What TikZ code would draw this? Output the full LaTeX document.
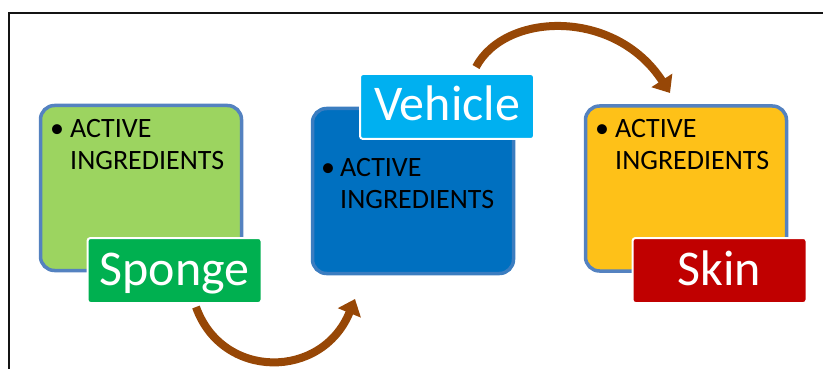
\documentclass[tikz,border=0pt]{standalone}
\usepackage{fontspec}
\setmainfont{Carlito}
\usetikzlibrary{arrows.meta}

\definecolor{frameblack}{RGB}{20,20,20}
\definecolor{boxedge}{RGB}{84,130,192}
\definecolor{spongefill}{RGB}{156,212,96}
\definecolor{vehiclefill}{RGB}{0,112,192}
\definecolor{skinfill}{RGB}{254,193,24}
\definecolor{spongetag}{RGB}{0,176,80}
\definecolor{vehicletag}{RGB}{0,176,240}
\definecolor{skintag}{RGB}{192,0,0}
\definecolor{flowbrown}{RGB}{151,71,6}

\tikzset{
  stage/.style={draw=boxedge, line width=3.5pt, rounded corners=14pt,
    minimum width=201pt, minimum height=165pt, inner sep=0pt},
  tag/.style={draw=white, line width=2pt, rounded corners=3pt, text=white,
    minimum width=174pt, minimum height=65pt, inner sep=0pt,
    font=\fontsize{50}{58}\selectfont, text height=29pt, text depth=0pt},
  bullets/.style={anchor=north west, inner sep=0pt, align=left,
    font=\fontsize{28}{32}\selectfont, text=black},
  flow/.style={draw=flowbrown, line width=8pt,
    -{Triangle[length=15pt,width=24pt]}}
}

\newcommand{\activeitem}[1]{\makebox[#1][l]{\textbullet}ACTIVE\\\hspace*{#1}INGREDIENTS}

\begin{document}
\begin{tikzpicture}[x=1pt,y=-1pt]
\useasboundingbox (0,0) rectangle (823,369);

% open frame: left and top edges
\coordinate (frameBL) at (9,369);
\coordinate (frameTR) at (823,13);
\draw[frameblack, line width=2pt] (frameBL) |- (frameTR);

% stages
\node[stage, fill=spongefill]  (sponge)  at (141,188)   {};
\node[stage, fill=vehiclefill, draw=boxedge!70!vehiclefill] (vehicle) at (413,191) {};
\node[stage, fill=skinfill]    (skin)    at (686,188.5) {};

\node[bullets] (spongeText)  at (50,119)  {\activeitem{20pt}};
\node[bullets] (vehicleText) at (321,158) {\activeitem{19pt}};
\node[bullets] (skinText)    at (595,119) {\activeitem{20pt}};

% stage tags
\node[tag, fill=spongetag]  (spongeTag)  at (174.5,270.5) {Sponge};
\node[tag, fill=vehicletag] (vehicleTag) at (447,106.5)   {Vehicle};
\node[tag, fill=skintag]    (skinTag)    at (719.5,270.5) {Skin};

% flow arrows
\coordinate (aStart) at (196,307);
\coordinate (aEnd)   at (355,299);
\draw[flow] (aStart) .. controls (222,380) and (322,380) .. (aEnd);

\coordinate (bStart) at (476,67);
\coordinate (bEnd)   at (670,93);
\draw[flow] (bStart) .. controls (505,12) and (615,8) .. (bEnd);
\end{tikzpicture}
\end{document}
